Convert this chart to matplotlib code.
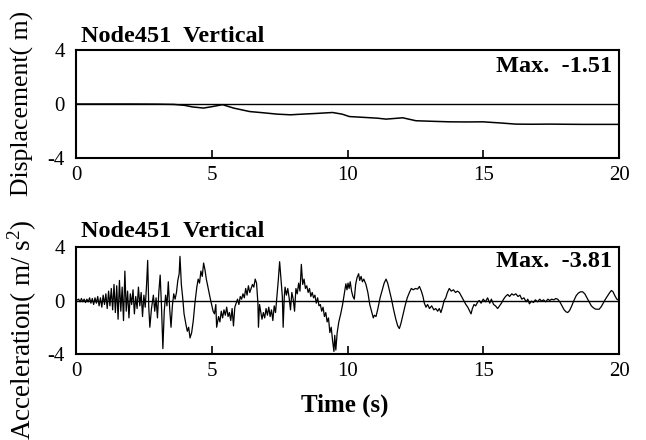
import matplotlib
matplotlib.use("Agg")
import matplotlib.pyplot as plt

# ---------------- data ----------------
disp_t = [0.0, 1.0, 2.0, 3.0, 3.6, 4.0, 4.3, 4.7, 5.0, 5.4, 5.8, 6.4, 6.9, 7.4, 7.9,
          8.25, 8.84, 9.45, 9.8, 10.07, 10.68, 11.1, 11.42, 11.8, 12.03, 12.52, 13.1,
          13.75, 14.4, 14.98, 15.6, 16.2, 16.8, 17.43, 18.0, 18.66, 19.3, 20.0]
disp_v = [0.0, 0.0, 0.0, -0.01, -0.03, -0.1, -0.22, -0.3, -0.2, -0.05, -0.3, -0.56,
          -0.65, -0.75, -0.8, -0.76, -0.7, -0.63, -0.75, -0.93, -1.0, -1.05, -1.12,
          -1.06, -1.02, -1.24, -1.28, -1.32, -1.33, -1.32, -1.4, -1.49, -1.5, -1.49,
          -1.5, -1.51, -1.51, -1.51]

acc_t = [0.0, 0.1, 0.15, 0.2, 0.25, 0.3, 0.35, 0.4, 0.45, 0.5, 0.55, 0.6, 0.65, 0.7,
         0.75, 0.8, 0.85, 0.9, 0.95, 1.0, 1.05, 1.1, 1.15, 1.2, 1.25, 1.3, 1.35, 1.4,
         1.45, 1.5, 1.55, 1.6, 1.65, 1.7, 1.75, 1.8, 1.85, 1.9, 1.95, 2.0, 2.05, 2.1,
         2.15, 2.2, 2.25, 2.3, 2.35, 2.4, 2.45, 2.5, 2.55, 2.6, 2.64, 2.68, 2.72, 2.78,
         2.85, 2.9, 2.95, 3.0, 3.05, 3.1, 3.15, 3.2, 3.25, 3.3, 3.35, 3.4, 3.45, 3.5,
         3.55, 3.6, 3.65, 3.7, 3.75, 3.8, 3.83, 3.88, 3.93, 3.98, 4.05, 4.1, 4.15, 4.2,
         4.26, 4.32, 4.38, 4.45, 4.5, 4.55, 4.6, 4.65, 4.7, 4.75, 4.8, 4.88, 4.95, 5.05,
         5.1, 5.15, 5.18, 5.25, 5.3, 5.35, 5.4, 5.45, 5.5, 5.55, 5.6, 5.65, 5.7, 5.75,
         5.8, 5.85, 5.9, 5.95, 6.0, 6.05, 6.1, 6.15, 6.2, 6.25, 6.3, 6.35, 6.4, 6.45,
         6.5, 6.55, 6.6, 6.65, 6.7, 6.72, 6.76, 6.8, 6.85, 6.9, 6.95, 7.0, 7.05, 7.1,
         7.15, 7.2, 7.25, 7.3, 7.35, 7.4, 7.45, 7.5, 7.55, 7.6, 7.63, 7.67, 7.7, 7.75,
         7.8, 7.85, 7.9, 7.95, 8.0, 8.05, 8.1, 8.15, 8.2, 8.25, 8.3, 8.35, 8.4, 8.45,
         8.5, 8.55, 8.6, 8.65, 8.7, 8.75, 8.8, 8.85, 8.9, 8.95, 9.0, 9.05, 9.1, 9.15,
         9.2, 9.25, 9.3, 9.35, 9.4, 9.45, 9.5, 9.53, 9.57, 9.62, 9.68, 9.75, 9.82, 9.88,
         9.94, 9.98, 10.02, 10.06, 10.1, 10.15, 10.2, 10.25, 10.3, 10.35, 10.41, 10.45,
         10.5, 10.55, 10.6, 10.68, 10.75, 10.82, 10.9, 10.95, 10.99, 11.05, 11.12, 11.2,
         11.28, 11.35, 11.42, 11.48, 11.55, 11.62, 11.7, 11.78, 11.85, 11.91, 11.97,
         12.05, 12.12, 12.2, 12.28, 12.35, 12.42, 12.5, 12.58, 12.65, 12.72, 12.78,
         12.83, 12.89, 12.95, 13.02, 13.1, 13.18, 13.25, 13.32, 13.38, 13.44, 13.5,
         13.56, 13.62, 13.68, 13.75, 13.82, 13.9, 13.98, 14.05, 14.12, 14.2, 14.28,
         14.36, 14.43, 14.5, 14.55, 14.6, 14.66, 14.72, 14.8, 14.85, 14.92, 15.0, 15.08,
         15.16, 15.24, 15.3, 15.38, 15.45, 15.53, 15.6, 15.67, 15.75, 15.82, 15.9,
         15.97, 16.05, 16.12, 16.2, 16.28, 16.35, 16.42, 16.5, 16.58, 16.64, 16.7,
         16.78, 16.85, 16.92, 17.0, 17.08, 17.15, 17.22, 17.3, 17.38, 17.45, 17.52,
         17.6, 17.67, 17.74, 17.82, 17.9, 17.98, 18.05, 18.11, 18.18, 18.26, 18.34,
         18.42, 18.5, 18.58, 18.66, 18.74, 18.82, 18.9, 18.98, 19.06, 19.14, 19.22,
         19.27, 19.35, 19.43, 19.5, 19.58, 19.66, 19.72, 19.78, 19.85, 19.92, 20.0]
acc_v = [0.0, 0.1, -0.1, 0.15, -0.1, 0.1, -0.15, 0.1, -0.1, 0.2, -0.2, 0.15, -0.3, 0.2,
         -0.2, 0.3, -0.4, 0.2, -0.5, 0.4, -0.3, 0.5, -0.6, 0.7, -0.4, 0.9, -0.7, 1.2,
         -0.9, 1.1, -1.4, 1.5, -0.8, 1.0, -1.5, 2.2, -0.8, 0.7, -1.3, 0.5, -0.3, 0.8,
         -1.0, 0.3, -0.6, 1.0, -0.4, 0.6, -1.2, 0.4, -0.5, 1.2, 3.0, -0.5, -2.0, -0.6,
         0.4, -0.8, 0.2, -1.3, 0.6, 1.9, -0.5, -3.6, -0.8, 0.4, -0.4, 1.4, -0.6, -2.0,
         -0.4, 0.5, 0.1, 0.6, 1.5, 2.0, 3.3, 1.2, 0.2, -1.0, -1.8, -2.3, -2.0, -2.8,
         -2.4, -1.5, -0.2, 1.0, 1.6, 1.3, 2.2, 1.8, 2.8, 2.3, 1.6, 0.8, 0.1, -0.8,
         -1.0, -0.3, -2.0, -1.2, -1.6, -0.8, -1.3, -0.7, -1.1, -0.5, -1.2, -0.9, -1.5, -0.6,
         -1.9, -0.5, -0.2, 0.1, -0.3, 0.3, 0.1, 0.5, 0.2, 0.9, 0.4, 1.1, 0.6, 0.9,
         1.2, 1.0, 1.6, 1.3, -0.2, -2.0, -0.3, -0.8, -1.4, -0.9, -1.3, -0.6, -1.1, -0.5,
         -1.2, -0.7, -1.5, -0.4, -0.9, 0.3, 1.5, 2.9, 1.6, 0.3, -2.0, 0.2, 1.0, 0.4,
         0.9, 0.2, -0.7, 0.6, 0.1, -0.8, 0.9, 0.5, 1.3, 0.7, 2.7, 1.2, 1.6, 0.9,
         1.1, 0.6, 0.9, 0.3, 0.6, 0.2, 0.4, -0.2, 0.2, -0.4, -0.3, -0.8, -0.5, -1.2,
         -0.9, -1.6, -1.3, -2.4, -2.0, -3.0, -3.81, -2.6, -3.7, -2.4, -1.6, -1.0, -0.3, 0.5,
         1.25, 0.8, 1.3, 0.9, 1.4, 0.7, 0.3, 0.1, 1.2, 1.7, 2.0, 1.5,
         1.8, 1.4, 1.6, 1.2, 0.6, -0.3, -0.9, -1.3, -1.1, -1.2, -0.6, 0.2,
         0.8, 1.3, 1.6, 1.3, 0.7, 0.1, -0.7, -1.4, -1.9, -2.1, -1.7,
         -1.0, -0.4, 0.2, 0.6, 0.9, 0.8, 0.9, 0.85, 1.05, 0.7, 0.3,
         -0.2, -0.5, -0.3, -0.6, -0.4, -0.7, -0.6, -0.8, -0.6, -0.9, -0.5,
         0.0, 0.2, 0.6, 0.9, 0.7, 0.8, 0.6, 0.7, 0.6, 0.3, 0.0,
         -0.3, -0.5, -0.8, -1.0, -0.6, -0.3, -0.4, -0.1, 0.0, -0.2, 0.1, -0.1,
         0.2, -0.2, 0.1, -0.3, -0.4, -0.6, -0.4, -0.2, 0.1, 0.3, 0.45,
         0.3, 0.5, 0.4, 0.5, 0.3, 0.4, 0.1, 0.2, -0.1, 0.1, -0.25,
         -0.05, -0.15, 0.05, -0.1, 0.1, -0.05, 0.05, -0.1, 0.1, 0.0, 0.1,
         0.05, 0.15, 0.1, -0.1, -0.4, -0.7, -0.85, -0.9, -0.75, -0.4, 0.0,
         0.35, 0.55, 0.65, 0.65, 0.5, 0.2, -0.1, -0.4, -0.55, -0.65, -0.65,
         -0.65, -0.45, -0.15, 0.1, 0.35, 0.6, 0.75, 0.65, 0.35, 0.1, 0.0]

x_ticks = [0, 5, 10, 15, 20]
y_ticks = [-4, 0, 4]
title_txt = "Node451  Vertical"
disp_max = "Max.  -1.51"
acc_max = "Max.  -3.81"
disp_label = "Displacement( m)"
acc_label = "Acceleration( m/ s$^{2}$)"
x_label = "Time (s)"

# ---------------- figure ----------------
plt.rcParams['font.family'] = ['Liberation Serif', 'DejaVu Serif']
plt.rcParams['mathtext.fontset'] = 'custom'
plt.rcParams['mathtext.rm'] = 'Liberation Serif'

W, H = 646, 440
fig = plt.figure(figsize=(W / 100, H / 100), dpi=100)

def frac_rect(left, top, right, bottom):
    return [left / W, 1 - bottom / H, (right - left) / W, (bottom - top) / H]

ax1 = fig.add_axes(frac_rect(76, 50, 619, 158))
ax2 = fig.add_axes(frac_rect(76, 247, 619, 354))

def style(ax):
    ax.set_xlim(0, 20)
    ax.set_ylim(-4, 4)
    ax.set_xticks(x_ticks)
    ax.set_yticks(y_ticks)
    ax.set_yticklabels([str(v) for v in y_ticks])
    ax.tick_params(axis='x', direction='in', length=6, width=1.2, pad=6,
                   labelsize=15, top=False)
    ax.tick_params(axis='y', length=0, pad=8, labelsize=15)
    for s in ax.spines.values():
        s.set_linewidth(1.5)
    ax.axhline(0, color='black', lw=1.0, zorder=1)

style(ax1)
style(ax2)

ax1.plot(disp_t, disp_v, color='black', lw=1.1, zorder=3)
ax2.plot(acc_t, acc_v, color='black', lw=0.9, zorder=3)

# titles
fig.text(81 / W, 1 - 42 / H, title_txt, fontsize=17.5, fontweight='bold',
         ha='left', va='baseline')
fig.text(81 / W, 1 - 237 / H, title_txt, fontsize=17.5, fontweight='bold',
         ha='left', va='baseline')

# Max texts
fig.text(612 / W, 1 - 72 / H, disp_max, fontsize=17.5, fontweight='bold',
         ha='right', va='baseline')
fig.text(612 / W, 1 - 267 / H, acc_max, fontsize=17.5, fontweight='bold',
         ha='right', va='baseline')

# y labels
fig.text(22 / W, 1 - 103 / H, disp_label, fontsize=18.5, rotation=90,
         ha='center', va='center')
fig.text(22 / W, 1 - 330 / H, acc_label, fontsize=19.5, rotation=90,
         ha='center', va='center')

# x label
fig.text(345 / W, 1 - 412 / H, x_label, fontsize=18, fontweight='bold',
         ha='center', va='baseline')

fig.savefig("out.png", dpi=100)
